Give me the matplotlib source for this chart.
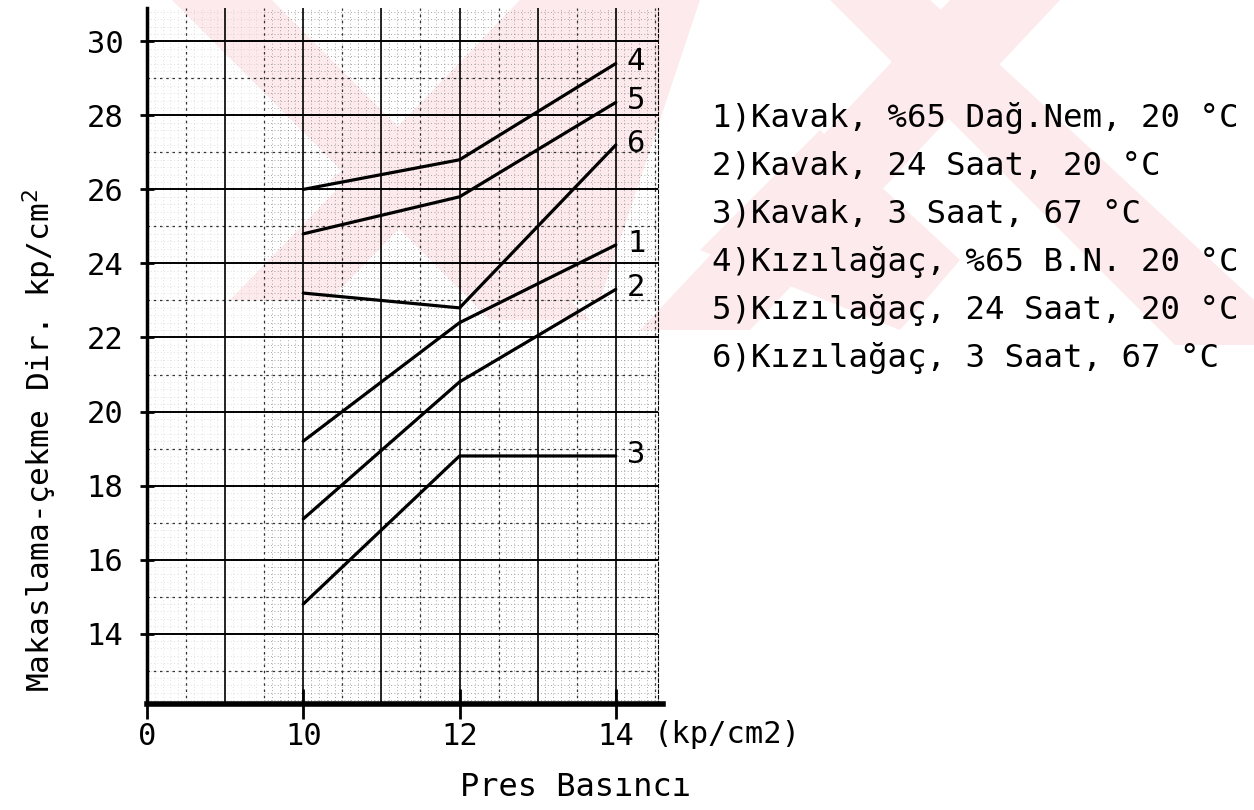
import matplotlib
matplotlib.use("Agg")
import matplotlib.pyplot as plt
from matplotlib.patches import Polygon
import numpy as np

# pressure (kp/cm2) and shear-tension strength (kp/cm2)
pressure = [10, 12, 14]
curve_ids = ['1', '2', '3', '4', '5', '6']
curve1 = [19.2, 22.4, 24.5]
curve2 = [17.1, 20.8, 23.3]
curve3 = [14.8, 18.8, 18.8]
curve4 = [26.0, 26.8, 29.4]
curve5 = [24.8, 25.8, 28.35]
curve6 = [23.2, 22.8, 27.2]
curves = [curve1, curve2, curve3, curve4, curve5, curve6]

legend_lines = [
    "1)Kavak, %65 Dağ.Nem, 20 °C",
    "2)Kavak, 24 Saat, 20 °C",
    "3)Kavak, 3 Saat, 67 °C",
    "4)Kızılağaç, %65 B.N. 20 °C",
    "5)Kızılağaç, 24 Saat, 20 °C",
    "6)Kızılağaç, 3 Saat, 67 °C",
]

y_ticks = [14, 16, 18, 20, 22, 24, 26, 28, 30]
x_ticks = [8, 10, 12, 14]          # axis is broken: left edge stands for 0
x_ticklabels = ['0', '10', '12', '14']

mono = 'DejaVu Sans Mono'
W, H = 1254, 810

fig = plt.figure(figsize=(W / 100, H / 100), dpi=100)
fig.patch.set_facecolor('white')

# faint red watermark of the scanned page (pixel coords -> figure fraction)
pink = '#fdeaec'
def wm(pts):
    xy = [(px / W, 1 - py / H) for px, py in pts]
    fig.add_artist(Polygon(xy, closed=True, transform=fig.transFigure,
                           facecolor=pink, edgecolor='none', zorder=-5))

wm([(172, 0), (272, 0), (590, 320), (490, 320)])
wm([(230, 300), (330, 300), (620, 0), (520, 0)])
wm([(330, 180), (560, 300), (600, 300), (700, 0), (560, 0)])
wm([(830, 0), (930, 0), (1254, 300), (1254, 345), (1175, 345)])
wm([(640, 330), (750, 330), (1060, 0), (950, 0)])
wm([(700, 250), (820, 130), (960, 260), (900, 330)])

ax = fig.add_axes([147 / W, 1 - 704 / H, (658 - 147) / W, (704 - 8) / H])
ax.patch.set_alpha(0)
ax.set_xlim(8, 14.54)
ax.set_ylim(12.1, 30.9)

# graph paper: mm dots (faded on the left of the scan), half-cm dashes, cm lines
fine_x0 = 9.5
for xv in np.arange(8.1, 14.54, 0.1):
    a = 1.0 if xv >= fine_x0 else 0.35
    ax.axvline(xv, color='#8a8a8a', lw=0.6, ls=(0, (1, 3)), alpha=a, zorder=1)
for yv in np.arange(12.2, 30.9, 0.2):
    ax.hlines(yv, fine_x0, 14.54, color='#8a8a8a', lw=0.6, ls=(0, (1, 3)), zorder=1)
    ax.hlines(yv, 8, fine_x0, color='#8a8a8a', lw=0.6, ls=(0, (1, 3)), alpha=0.35, zorder=1)
for xv in np.arange(8.5, 14.54, 1.0):
    ax.axvline(xv, color='#333333', lw=0.9, ls=(0, (2, 3)), zorder=2)
for yv in range(13, 31, 2):
    ax.axhline(yv, color='#333333', lw=0.9, ls=(0, (2, 3)), zorder=2)
for xv in range(9, 15):
    ax.axvline(xv, color='black', lw=1.2, zorder=3)
for yv in y_ticks:
    ax.axhline(yv, color='black', lw=1.4, zorder=3)

for ys, lab in zip(curves, curve_ids):
    ax.plot(pressure, ys, color='black', lw=2.3, solid_capstyle='round', zorder=5)
    ax.text(14.26, ys[-1] + 0.05, lab, fontsize=22, family=mono,
            ha='center', va='center', color='black', zorder=6)

ax.spines['top'].set_visible(False)
ax.spines['right'].set_linewidth(0.8)
ax.spines['right'].set_linestyle((0, (3, 2)))
ax.spines['left'].set_linewidth(2.5)
ax.spines['bottom'].set_linewidth(4)
ax.spines['bottom'].set_bounds(8, 14.6)

ax.set_yticks(y_ticks)
ax.set_yticklabels([str(v) for v in y_ticks], family=mono, fontsize=22)
ax.set_xticks(x_ticks)
ax.set_xticklabels(x_ticklabels, family=mono, fontsize=22)
ax.tick_params(axis='y', direction='inout', length=10, width=2, pad=12)
ax.tick_params(axis='x', direction='inout', length=22, width=2, pad=2)

ax.annotate('(kp/cm2)', xy=(14, 0), xycoords=('data', 'axes fraction'),
            xytext=(27, -22), textcoords='offset points',
            fontsize=22, family=mono, ha='left', va='center')

fig.text(575 / W, 1 - 788 / H, 'Pres Basıncı', fontsize=23, family=mono,
         ha='center', va='center')
fig.text(40 / W, 1 - 440 / H, 'Makaslama-çekme Dir. kp/cm$^2$', fontsize=22.5,
         family=mono, rotation=90, ha='center', va='center')

for i, line in enumerate(legend_lines):
    fig.text(712 / W, 1 - (118 + 48 * i) / H, line, fontsize=23.3, family=mono,
             ha='left', va='center')

fig.savefig('out.png', dpi=100)
